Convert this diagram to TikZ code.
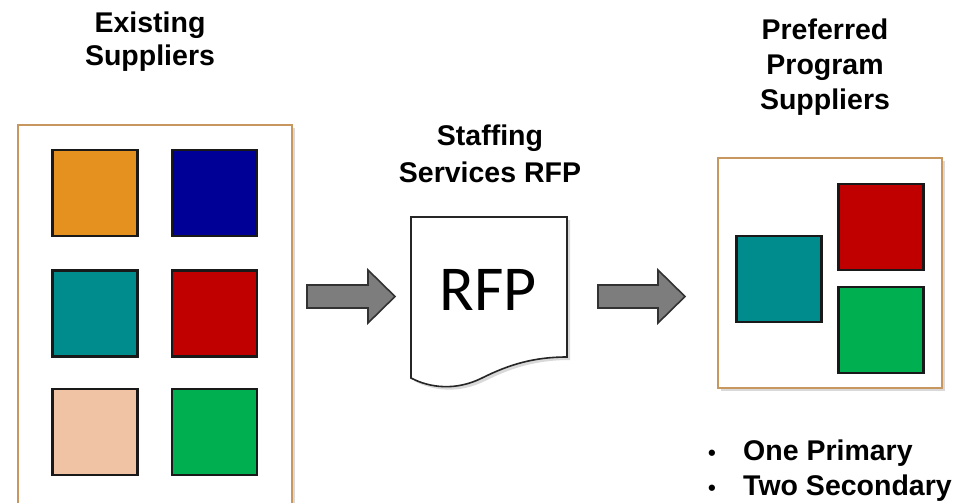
\documentclass[tikz,border=0pt]{standalone}
\usepackage{fontspec}
\setmainfont{Liberation Sans}
\newfontfamily\rfpfont{Carlito}
\usetikzlibrary{shadows}

\definecolor{frameTan}{RGB}{200,150,95}
\definecolor{sqOrange}{RGB}{229,145,32}
\definecolor{sqNavy}{RGB}{0,0,150}
\definecolor{sqTeal}{RGB}{0,140,140}
\definecolor{sqRed}{RGB}{192,0,0}
\definecolor{sqPeach}{RGB}{240,195,165}
\definecolor{sqGreen}{RGB}{0,176,80}
\definecolor{arrowGray}{RGB}{125,125,125}
\definecolor{arrowEdge}{RGB}{50,50,50}

\tikzset{
  frame/.style={draw=frameTan, line width=2.4pt, fill=white,
    drop shadow={shadow xshift=3pt, shadow yshift=-3pt, opacity=0.3}},
  tile/.style={draw=black!90, line width=2.4pt, minimum width=85pt,
    minimum height=86pt, inner sep=0pt},
  blockarrow/.style={draw=arrowEdge, line width=1.6pt, fill=arrowGray,
    line join=miter},
  doc/.style={draw=black!85, line width=1.6pt, fill=white,
    drop shadow={shadow xshift=3pt, shadow yshift=-3pt, opacity=0.3}},
  title/.style={font=\fontsize{28.5}{34}\selectfont\bfseries, anchor=base,
    inner sep=0pt, text=black},
}

\begin{document}
\begin{tikzpicture}[x=1pt, y=-1pt]
  \useasboundingbox (0,0) rectangle (970,503);
  \clip (0,0) rectangle (970,503);

  % titles
  \node[title] (t1a) at (150,33) {Existing};
  \node[title] (t1b) at (150,66) {Suppliers};
  \node[title] (t2a) at (490,145) {Staffing};
  \node[title] (t2b) at (490,182) {Services RFP};
  \node[title] (t3a) at (825,40) {Preferred};
  \node[title] (t3b) at (825,75) {Program};
  \node[title] (t3c) at (825,110) {Suppliers};

  % existing suppliers panel (runs past the lower edge)
  \draw[frame] (18,125) rectangle (292,530);
  \node[tile, fill=sqOrange] (s1) at (95,193) {};
  \node[tile, fill=sqNavy]   (s2) at (214.5,193) {};
  \node[tile, fill=sqTeal]   (s3) at (95,313.5) {};
  \node[tile, fill=sqRed]    (s4) at (214.5,313.5) {};
  \node[tile, fill=sqPeach]  (s5) at (95,432) {};
  \node[tile, fill=sqGreen]  (s6) at (214.5,432) {};

  % RFP document with wavy lower edge
  \draw[doc] (411,217) -- (567,217) -- (567,357)
    .. controls (535,357) and (510,364) .. (482,378)
    .. controls (456,391) and (430,388) .. (411,378) -- cycle;
  \node[font=\rfpfont\fontsize{64}{70}\selectfont, anchor=base, inner sep=0pt]
    (rfp) at (488,310) {RFP};

  % block arrows
  \coordinate (a1s) at (307,296.5);
  \coordinate (a1e) at (395,296.5);
  \draw[blockarrow] (a1s) ++(0,-11.5) -- ++(61,0) -- ++(0,-15) -- (a1e)
    -- ++(-27,26.5) -- ++(0,-15) -- ++(-61,0) -- cycle;
  \coordinate (a2s) at (598,296.5);
  \coordinate (a2e) at (685,296.5);
  \draw[blockarrow] (a2s) ++(0,-11.5) -- ++(60,0) -- ++(0,-15) -- (a2e)
    -- ++(-27,26.5) -- ++(0,-15) -- ++(-60,0) -- cycle;

  % preferred suppliers panel
  \draw[frame] (718,158) rectangle (942,388);
  \node[tile, fill=sqTeal]  (p1) at (779,279) {};
  \node[tile, fill=sqRed]   (p2) at (881,227) {};
  \node[tile, fill=sqGreen] (p3) at (881,330) {};

  % bullet list
  \node[title, font=\fontsize{22}{30}\selectfont\bfseries] (b1) at (712,460) {•};
  \node[title, anchor=base west] (l1) at (743,460) {One Primary};
  \node[title, font=\fontsize{22}{30}\selectfont\bfseries] (b2) at (712,495) {•};
  \node[title, anchor=base west] (l2) at (743,495) {Two Secondary};
\end{tikzpicture}
\end{document}
